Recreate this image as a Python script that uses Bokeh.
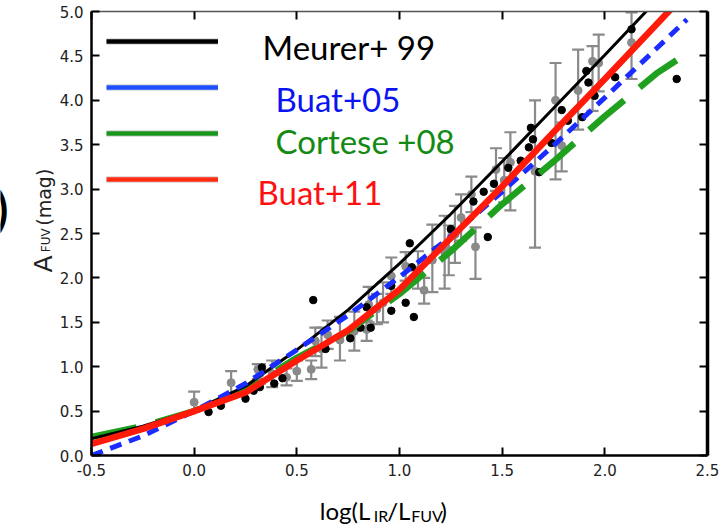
from bokeh.plotting import figure
from bokeh.layouts import column, row
from bokeh.models import (ColumnDataSource, Whisker, TeeHead, Label, Legend, LegendItem,
                          LinearAxis, FixedTicker, Range1d)
from bokeh.embed import file_html
from bokeh.resources import INLINE

# ---------------- data ----------------
x_ticks = [-0.5, 0.0, 0.5, 1.0, 1.5, 2.0, 2.5]
x_tick_labels = ["-0.5", "0.0", "0.5", "1.0", "1.5", "2.0", "2.5"]
y_ticks = [0.0, 0.5, 1.0, 1.5, 2.0, 2.5, 3.0, 3.5, 4.0, 4.5, 5.0]
y_tick_labels = ["0.0", "0.5", "1.0", "1.5", "2.0", "2.5", "3.0", "3.5", "4.0", "4.5", "5.0"]

meurer_x = [-0.5, -0.25, 0.0, 0.25, 0.5, 0.75, 1.0, 1.25, 1.5, 1.75, 2.0, 2.25]
meurer_y = [0.19, 0.33, 0.51, 0.78, 1.19, 1.64, 2.16, 2.72, 3.31, 3.91, 4.51, 5.12]

buat05_x = [-0.5, -0.25, 0.0, 0.25, 0.5, 0.75, 1.0, 1.25, 1.5, 1.75, 2.0, 2.25, 2.4]
buat05_y = [0.0, 0.22, 0.50, 0.81, 1.19, 1.58, 2.01, 2.47, 2.97, 3.49, 4.03, 4.58, 4.91]

cortese08_x = [-0.5, -0.25, 0.0, 0.25, 0.5, 0.75, 1.0, 1.25, 1.5, 1.75, 2.0, 2.25, 2.42]
cortese08_y = [0.21, 0.33, 0.50, 0.74, 1.10, 1.40, 1.82, 2.30, 2.83, 3.31, 3.82, 4.30, 4.56]

buat11_x = [-0.5, -0.25, 0.0, 0.25, 0.5, 0.75, 1.0, 1.25, 1.5, 1.75, 2.0, 2.25, 2.4]
buat11_y = [0.13, 0.30, 0.50, 0.71, 1.07, 1.41, 1.87, 2.45, 3.03, 3.64, 4.24, 4.85, 5.22]

# black points
black_x = [0.07, 0.13, 0.25, 0.29, 0.32, 0.39, 0.43, 0.33, 0.58, 0.64, 0.76, 0.81, 0.86, 0.84,
           0.96, 0.96, 1.03, 1.07, 1.06, 1.05, 1.18, 1.25, 1.36, 1.43, 1.41, 1.46, 1.53, 1.59,
           1.63, 1.64, 1.65, 1.68, 1.74, 1.79, 1.82, 1.89, 1.91, 1.92, 1.95, 2.05, 2.13, 2.35]
black_y = [0.49, 0.56, 0.64, 0.73, 0.77, 0.81, 0.87, 0.99, 1.75, 1.20, 1.32, 1.44, 1.44, 1.67,
           1.63, 1.91, 1.72, 1.56, 2.12, 2.39, 2.32, 2.55, 2.86, 2.46, 2.97, 3.06, 3.24, 3.32,
           3.47, 3.69, 3.56, 3.19, 3.52, 3.89, 3.77, 3.81, 4.33, 4.20, 4.05, 4.26, 4.80, 4.24]

# grey points with error bars
grey_x = [0.00, 0.18, 0.31, 0.32, 0.38, 0.45, 0.50, 0.57, 0.59, 0.62, 0.65, 0.71, 0.78, 0.84,
          0.85, 0.89, 0.92, 0.96, 1.03, 1.09, 1.12, 1.16, 1.22, 1.24, 1.27, 1.30, 1.35, 1.37,
          1.47, 1.51, 1.54, 1.66, 1.76, 1.79, 1.87, 1.94, 1.97, 2.13]
grey_y = [0.60, 0.82, 0.97, 0.92, 0.92, 0.88, 0.95, 0.97, 1.29, 1.20, 1.36, 1.30, 1.40, 1.42,
          1.70, 1.65, 1.72, 2.02, 2.13, 2.09, 1.86, 2.20, 2.29, 2.31, 2.49, 2.68, 2.94, 2.35,
          3.22, 3.10, 3.30, 3.20, 4.00, 3.49, 4.11, 4.44, 4.42, 4.65]
grey_lo = [0.49, 0.67, 0.86, 0.81, 0.77, 0.79, 0.84, 0.86, 1.12, 0.99, 1.20, 1.07, 1.18, 1.29,
           1.50, 1.48, 1.50, 1.82, 1.97, 1.88, 1.71, 1.84, 1.88, 2.03, 2.17, 2.42, 2.74, 1.99,
           2.98, 2.85, 2.76, 2.34, 3.11, 3.20, 3.67, 3.88, 4.10, 4.24]
grey_hi = [0.72, 0.95, 1.03, 1.03, 1.07, 0.98, 1.07, 1.07, 1.44, 1.44, 1.52, 1.56, 1.62, 1.52,
           1.90, 1.82, 1.95, 2.23, 2.29, 2.30, 2.00, 2.60, 2.70, 2.59, 2.81, 2.94, 3.14, 2.57,
           3.46, 3.35, 3.64, 4.00, 4.42, 3.75, 4.57, 4.61, 4.74, 4.99]

legend_names = ["Meurer+ 99", "Buat+05", "Cortese +08", "Buat+11"]

# ---------------- layout geometry (pixels in the 725x524 page) ----------------
W, H = 725, 524
YLAB_W = 56          # strip on the left holding the y-axis title
MAIN_H = 485         # main plot height; strip below holds the x-axis title
FL, FR, FT, FB = 91, 707, 11, 455  # frame edges in page pixels
XR = (-0.5, 2.5)
YR = (0.0, 5.0)

p = figure(width=W - YLAB_W, height=MAIN_H, output_backend="svg", toolbar_location=None,
           x_range=Range1d(*XR), y_range=Range1d(*YR),
           min_border_left=FL - YLAB_W, min_border_right=W - FR, min_border_top=FT,
           min_border_bottom=MAIN_H - FB, x_axis_type=None, y_axis_type=None)
p.grid.visible = False
p.outline_line_color = None
p.background_fill_color = "white"
p.border_fill_color = "white"

TICK_FONT = "DejaVu Sans"


def make_axis(ticks, labels, show_labels, width, color="black"):
    if show_labels:
        overrides = {t: l for t, l in zip(ticks, labels)}
    else:
        overrides = {t: "" for t in ticks}
    ax = LinearAxis(ticker=FixedTicker(ticks=ticks), major_label_overrides=overrides)
    ax.major_tick_in = 8
    ax.major_tick_out = 0
    ax.minor_tick_in = 0
    ax.minor_tick_out = 0
    ax.major_tick_line_width = 2
    ax.major_tick_line_color = "black"
    ax.axis_line_width = width
    ax.axis_line_color = color
    ax.major_label_text_font = TICK_FONT
    ax.major_label_text_font_size = "15px"
    ax.major_label_text_color = "#222222"
    ax.major_label_standoff = 8 if show_labels else 0
    return ax


p.add_layout(make_axis(x_ticks, x_tick_labels, True, 2.5), "below")
p.add_layout(make_axis(y_ticks, y_tick_labels, True, 2.5), "left")
p.add_layout(make_axis(x_ticks, x_tick_labels, False, 1.5, "#555555"), "above")
p.add_layout(make_axis(y_ticks, y_tick_labels, False, 3.5), "right")

# error bars (under everything)
gsrc = ColumnDataSource(dict(x=grey_x, y=grey_y, lo=grey_lo, hi=grey_hi))
GREY = "#8a8a8a"
wh = Whisker(source=gsrc, base="x", upper="hi", lower="lo", dimension="height",
             line_color=GREY, line_width=2.2,
             upper_head=TeeHead(size=12, line_color=GREY, line_width=2.2),
             lower_head=TeeHead(size=12, line_color=GREY, line_width=2.2))
wh.level = "underlay"
p.add_layout(wh)
p.scatter("x", "y", source=gsrc, size=8, color=GREY)

p.scatter(black_x, black_y, size=7.5, color="black")

# curves
p.line(cortese08_x, cortese08_y, line_color="#1fa01f", line_width=6.5, line_dash="46 20")
p.line(meurer_x, meurer_y, line_color="black", line_width=3)
p.line(buat05_x, buat05_y, line_color="#1a2cff", line_width=5, line_dash="12 8")
p.line(buat11_x, buat11_y, line_color="#ff1a0a", line_width=6.5)

# legend (sample lines only; texts drawn separately in their own colours)
nan = float("nan")
legend_colors = ["black", "#1d4fff", "#18951a", "#ff2a12"]

# soft shadow under each legend sample line
shadow_r = [p.line([nan], [nan], line_color="black", line_alpha=0.13, line_width=7)
            for _ in legend_colors]
shadow = Legend(items=[LegendItem(label=" ", renderers=[r]) for r in shadow_r],
                location="top_left", margin=15, padding=3, spacing=16,
                glyph_width=112, glyph_height=30, label_height=30,
                label_text_font_size="10px", label_standoff=0, border_line_color=None,
                background_fill_alpha=0)
p.add_layout(shadow)

dummies = [p.line([nan], [nan], line_color=c, line_width=4.5) for c in legend_colors]
leg = Legend(items=[LegendItem(label=" ", renderers=[r]) for r in dummies],
             location="top_left", margin=15, padding=0, spacing=16,
             glyph_width=112, glyph_height=30, label_height=30,
             label_text_font_size="10px", label_standoff=0, border_line_color=None,
             background_fill_alpha=0)
p.add_layout(leg)

LEG_FONT = "Lato"
text_colors = ["black", "#0a14f0", "#138a13", "#ff1010"]
text_pos = [(262, 46.7), (275, 98.3), (275, 140), (257, 191.7)]
for name, col, (px, py) in zip(legend_names, text_colors, text_pos):
    p.add_layout(Label(x=px - YLAB_W, y=py, x_units="canvas", y_units="canvas", text=name,
                       text_color=col, text_font=LEG_FONT, text_font_size="33px",
                       text_align="left", text_baseline="alphabetic"))


def strip(width, height, top):
    """A blank figure whose data coordinates equal page pixels."""
    f = figure(width=width, height=height, output_backend="svg", toolbar_location=None,
               x_range=Range1d(0, width), y_range=Range1d(top + height, top),
               min_border=0, x_axis_type=None, y_axis_type=None)
    f.grid.visible = False
    f.outline_line_color = None
    f.background_fill_color = "white"
    f.border_fill_color = "white"
    return f


# y-axis title strip: A_FUV (mag), rotated
ylab = strip(YLAB_W, MAIN_H, 0)
for txt, px, py, fs in [("A", 43.3, 285.0, "25px"), ("FUV", 45.8, 263.0, "12px"),
                        ("(mag)", 43.3, 234.0, "19px")]:
    ylab.add_layout(Label(x=px, y=py, text=txt, text_font=TICK_FONT, text_font_size=fs,
                          text_color="#222222", angle=1.5707963, text_align="left",
                          text_baseline="alphabetic"))
# cropped parenthesis at the far left edge of the reference
ylab.add_layout(Label(x=8, y=215, text=")", text_font="Lato", text_font_size="46px",
                      text_font_style="bold", text_color="black", text_align="right",
                      text_baseline="alphabetic"))

# x-axis title strip: log(L_IR/L_FUV)
xlab = strip(W, H - MAIN_H, MAIN_H)
for txt, px, py, fs in [("log(L", 319.3, 509.5, "24px"), ("IR", 373.3, 514.5, "16px"),
                        ("/L", 386.7, 509.5, "24px"), ("FUV", 410.7, 514.5, "16px"),
                        (")", 440.0, 509.5, "24px")]:
    xlab.add_layout(Label(x=px, y=py, text=txt, text_font="Lato", text_font_size=fs,
                          text_color="black", text_align="left", text_baseline="alphabetic"))

layout = column(row(ylab, p, spacing=0), xlab, spacing=0)
open("out.html", "w").write(file_html(layout, INLINE))
